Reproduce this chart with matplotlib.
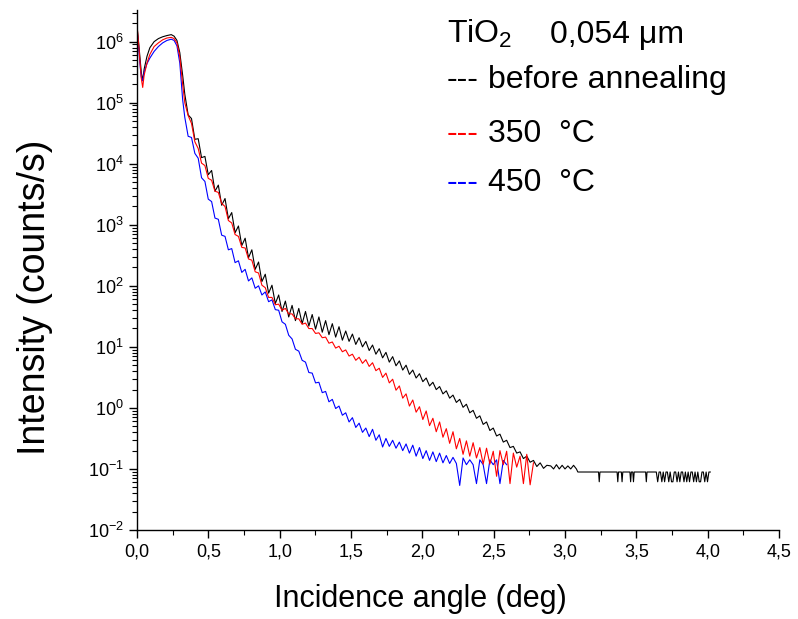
import numpy as np
import matplotlib
matplotlib.use("Agg")
import matplotlib.pyplot as plt
from matplotlib.ticker import FuncFormatter, MultipleLocator, LogLocator

plt.rcParams["font.family"] = ["Liberation Sans", "DejaVu Sans"]
plt.rcParams["mathtext.fontset"] = "custom"
plt.rcParams["mathtext.rm"] = "Liberation Sans"
plt.rcParams["mathtext.it"] = "Liberation Sans:italic"

# --- data (log10 of intensity) ---
# region below the critical angle, same angles for all three curves
edge_x = [0.0, 0.01, 0.02, 0.03, 0.04, 0.05, 0.07, 0.09, 0.12, 0.15, 0.18, 0.21, 0.24, 0.26, 0.28, 0.30, 0.32]
black_edge = [6.25, 6.02, 5.75, 5.50, 5.36, 5.55, 5.76, 5.90, 6.00, 6.05, 6.08, 6.10, 6.115, 6.09, 6.02, 5.82, 5.45]
red_edge = [6.28, 6.00, 5.70, 5.40, 5.25, 5.45, 5.65, 5.79, 5.92, 5.98, 6.03, 6.06, 6.07, 6.05, 5.98, 5.75, 5.30]
blue_edge = [6.20, 5.95, 5.65, 5.42, 5.36, 5.50, 5.64, 5.73, 5.84, 5.92, 5.98, 6.02, 6.04, 6.02, 5.93, 5.65, 5.05]

# fringe region, one value per half fringe (scan step 0.0235 deg from 0.335 deg)
fringe_start = 0.335
fringe_step = 0.0235
black_fringe = [
    5.14, 4.80, 4.74, 4.40, 4.41, 4.10, 4.12, 3.82,
    3.89, 3.55, 3.65, 3.32, 3.43, 3.10, 3.20, 2.87, 2.98, 2.66, 2.78, 2.46,
    2.59, 2.27, 2.39, 2.07, 2.19, 1.88, 2.01, 1.71,
    1.85, 1.58, 1.75, 1.49, 1.68, 1.43, 1.63, 1.38, 1.58, 1.34, 1.53, 1.29,
    1.49, 1.24, 1.43, 1.20, 1.38, 1.16, 1.33, 1.11,
    1.26, 1.09, 1.21, 1.04, 1.15, 1.00, 1.09, 0.94, 1.03, 0.88, 0.97, 0.82,
    0.91, 0.75, 0.84, 0.69, 0.77, 0.62, 0.70, 0.55, 0.62, 0.49, 0.56, 0.43,
    0.49, 0.36, 0.42, 0.30, 0.35, 0.23, 0.28, 0.16, 0.21, 0.09,
    0.14, 0.01, 0.06, -0.08, -0.04, -0.17, -0.13, -0.27, -0.23, -0.37,
    -0.33, -0.46, -0.43, -0.56, -0.53, -0.65, -0.63, -0.74, -0.72, -0.83,
    -0.79, -0.89, -0.86, -0.96, -0.90, -0.99, -0.94,
]
red_fringe = [
    5.00, 4.79, 4.66, 4.36, 4.25, 4.01, 3.97, 3.76,
    3.73, 3.55, 3.53, 3.35, 3.30, 3.07, 3.03, 2.84, 2.81, 2.63, 2.62, 2.44,
    2.42, 2.23, 2.21, 2.01, 1.97, 1.81, 1.81, 1.69,
    1.70, 1.60, 1.63, 1.54, 1.54, 1.46, 1.46, 1.37, 1.39, 1.30, 1.30, 1.22,
    1.23, 1.15, 1.16, 1.06, 1.08, 0.98, 1.01, 0.92,
    0.95, 0.85, 0.88, 0.78, 0.83, 0.73, 0.79, 0.68, 0.74, 0.61, 0.65, 0.50,
    0.57, 0.41, 0.47, 0.29, 0.36, 0.16, 0.23, 0.03, 0.13, -0.07, 0.02, -0.19,
    -0.05, -0.29, -0.17, -0.39, -0.23, -0.48, -0.34, -0.58, -0.39, -0.67,
    -0.50, -0.76, -0.54, -0.79, -0.57, -0.82, -0.65, -0.92, -0.66, -0.92,
    -0.71, -1.12, -0.70, -0.93, -0.71, -1.24, -0.74, -0.97, -0.79, -1.24,
    -0.76, -1.26, -0.90,
]
blue_fringe = [
    4.76, 4.45, 4.43, 4.17, 4.09, 3.77, 3.71, 3.42,
    3.38, 3.11, 3.09, 2.83, 2.81, 2.59, 2.61, 2.38, 2.41, 2.22, 2.27, 2.08,
    2.13, 1.96, 2.00, 1.85, 1.90, 1.74, 1.77, 1.61,
    1.60, 1.41, 1.37, 1.19, 1.13, 0.96, 0.93, 0.78, 0.75, 0.58, 0.57, 0.41,
    0.42, 0.25, 0.27, 0.10, 0.14, -0.01, 0.03, -0.12,
    -0.08, -0.23, -0.16, -0.32, -0.25, -0.40, -0.33, -0.47, -0.35, -0.53,
    -0.44, -0.64, -0.50, -0.63, -0.53, -0.66, -0.56, -0.70, -0.59, -0.74,
    -0.61, -0.79, -0.65, -0.83,
    -0.70, -0.86, -0.72, -0.88, -0.74, -0.90, -0.78, -0.91, -0.81, -0.91,
    -1.27, -0.82, -0.93, -0.85, -0.93, -1.24, -0.85, -0.93, -1.24, -0.85,
    -0.93, -0.85, -1.24, -0.86, -0.93,
]

# background tail of the unannealed sample (only this one was scanned to 4 deg)
black_tail_x = [2.90, 2.92, 2.94, 2.96, 2.98, 3.00, 3.02, 3.04, 3.06, 3.08, 3.09,
                3.235, 3.24, 3.245, 3.365, 3.37, 3.375, 3.395, 3.40, 3.405,
                3.455, 3.46, 3.465, 3.475, 3.48, 3.485, 3.565, 3.57, 3.575]
black_tail = [-0.95, -1.00, -0.93, -1.00, -0.94, -1.00, -0.95, -1.00, -0.94, -1.00, -1.05,
              -1.05, -1.21, -1.05, -1.05, -1.21, -1.05, -1.05, -1.21, -1.05,
              -1.05, -1.21, -1.05, -1.05, -1.21, -1.05, -1.05, -1.21, -1.05]
dense_start = 3.64
dense_step = 0.0097
black_dense = [-1.05, -1.21, -1.05, -1.05, -1.21, -1.05, -1.21, -1.05, -1.05, -1.21,
               -1.05, -1.21, -1.21, -1.05, -1.05, -1.21, -1.05, -1.21, -1.05, -1.05,
               -1.21, -1.05, -1.21, -1.05, -1.21, -1.05, -1.05, -1.21, -1.05, -1.21,
               -1.05, -1.21, -1.21, -1.05, -1.05, -1.21, -1.05, -1.21, -1.05, -1.05]

x_ticks = [0.0, 0.5, 1.0, 1.5, 2.0, 2.5, 3.0, 3.5, 4.0, 4.5]


def fringe_x(vals):
    return fringe_start + fringe_step * np.arange(len(vals))


black_x = np.concatenate([edge_x, fringe_x(black_fringe), black_tail_x,
                          dense_start + dense_step * np.arange(len(black_dense))])
black_y = 10 ** np.concatenate([black_edge, black_fringe, black_tail, black_dense])
red_x = np.concatenate([edge_x, fringe_x(red_fringe)])
red_y = 10 ** np.concatenate([red_edge, red_fringe])
blue_x = np.concatenate([edge_x, fringe_x(blue_fringe)])
blue_y = 10 ** np.concatenate([blue_edge, blue_fringe])

fig = plt.figure(figsize=(7.98, 6.19), dpi=100)
ax = fig.add_axes([137 / 798, 89 / 619, 642 / 798, 520 / 619])

ax.plot(black_x, black_y, color="black", lw=0.8)
ax.plot(blue_x, blue_y, color="blue", lw=0.8)
ax.plot(red_x, red_y, color="red", lw=0.8)

ax.set_yscale("log")
ax.set_xlim(0, 4.5)
ax.set_ylim(1e-2, 3.3e6)
ax.set_xticks(x_ticks)
ax.xaxis.set_minor_locator(MultipleLocator(0.25))
ax.xaxis.set_major_formatter(FuncFormatter(lambda v, p: f"{v:.1f}".replace(".", ",")))
ax.yaxis.set_major_locator(LogLocator(base=10, numticks=20))
ax.yaxis.set_minor_locator(LogLocator(base=10, subs=np.arange(2, 10), numticks=20))

for s in ["top", "right"]:
    ax.spines[s].set_visible(False)
for s in ["left", "bottom"]:
    ax.spines[s].set_linewidth(1.0)
ax.tick_params(which="major", direction="out", length=6, width=1, labelsize=13)
ax.tick_params(which="minor", direction="out", length=3.5, width=0.8)

ax.set_xlabel("Incidence angle (deg)", fontsize=22)
ax.xaxis.set_label_coords(0.442, -0.148)
ax.xaxis.label.set_va("baseline")
ax.set_ylabel("Intensity (counts/s)", fontsize=27)
ax.yaxis.set_label_coords(-0.159, 0.448)
ax.yaxis.label.set_va("center")

# legend written as text, like in the original
fs = 23
fig.text(447 / 798, 1 - 43 / 619, "TiO$_{2}$", fontsize=fs, va="baseline")
fig.text(550 / 798, 1 - 43 / 619, "0,054 \u03bcm", fontsize=fs, va="baseline")
fig.text(447 / 798, 1 - 88 / 619, "---", fontsize=fs, va="baseline", color="black")
fig.text(488 / 798, 1 - 88 / 619, "before annealing", fontsize=fs, va="baseline")
fig.text(447 / 798, 1 - 142 / 619, "---", fontsize=fs, va="baseline", color="red")
fig.text(488 / 798, 1 - 142 / 619, "350  \u00b0C", fontsize=fs, va="baseline")
fig.text(447 / 798, 1 - 191 / 619, "---", fontsize=fs, va="baseline", color="blue")
fig.text(488 / 798, 1 - 191 / 619, "450  \u00b0C", fontsize=fs, va="baseline")

fig.savefig("out.png", dpi=100)
